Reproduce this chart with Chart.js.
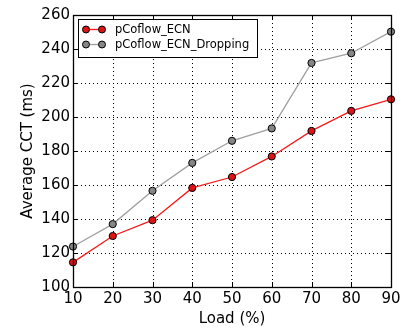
<!DOCTYPE html>
<html>
<head>
<meta charset="utf-8">
<script src="https://cdn.jsdelivr.net/npm/chart.js@4/dist/chart.umd.min.js"></script>
<style>
  html, body { margin: 0; padding: 0; background: #fff; }
  #wrap { width: 416px; height: 334px; }
</style>
</head>
<body>
<div id="wrap"><canvas id="chart" width="416" height="334"></canvas></div>
<script>
const loads = [10, 20, 30, 40, 50, 60, 70, 80, 90];
const ecn = [114.5, 130, 139.3, 158.3, 164.7, 176.8, 191.8, 203.6, 210.4];
const ecnDropping = [123.8, 137, 156.6, 173, 186, 193.3, 231.8, 237.5, 250.2];
const seriesNames = ['pCoflow_ECN', 'pCoflow_ECN_Dropping'];
const yTicks = [100, 120, 140, 160, 180, 200, 220, 240, 260];

const FONT = 'DejaVu Sans';

function toPoints(values) {
    return loads.map((x, i) => ({ x: x, y: values[i] }));
}

// dotted grid behind the lines
const gridPlugin = {
    id: 'dottedGrid',
    beforeDatasetsDraw(chart) {
        const ctx = chart.ctx;
        const a = chart.chartArea;
        const xs = chart.scales.x;
        const ys = chart.scales.y;
        ctx.save();
        ctx.strokeStyle = '#000';
        ctx.lineWidth = 1;
        ctx.setLineDash([1, 3]);
        ctx.beginPath();
        loads.forEach(v => {
            const px = Math.round(xs.getPixelForValue(v)) + 0.5;
            ctx.moveTo(px, a.top); ctx.lineTo(px, a.bottom);
        });
        yTicks.forEach(v => {
            const py = Math.round(ys.getPixelForValue(v)) + 0.5;
            ctx.moveTo(a.left, py); ctx.lineTo(a.right, py);
        });
        ctx.stroke();
        ctx.restore();
    }
};

// box around plot, inward ticks and the legend box
const framePlugin = {
    id: 'frame',
    afterDraw(chart) {
        const ctx = chart.ctx;
        const a = chart.chartArea;
        const xs = chart.scales.x;
        const ys = chart.scales.y;
        ctx.save();
        ctx.strokeStyle = '#000';
        ctx.lineWidth = 1.3;
        ctx.strokeRect(Math.round(a.left) + 0.5, Math.round(a.top) + 0.5,
            Math.round(a.right - a.left), Math.round(a.bottom - a.top));

        ctx.lineWidth = 1;
        ctx.beginPath();
        loads.forEach(v => {
            const px = Math.round(xs.getPixelForValue(v)) + 0.5;
            ctx.moveTo(px, a.bottom); ctx.lineTo(px, a.bottom - 5);
            ctx.moveTo(px, a.top); ctx.lineTo(px, a.top + 5);
        });
        yTicks.forEach(v => {
            const py = Math.round(ys.getPixelForValue(v)) + 0.5;
            ctx.moveTo(a.left, py); ctx.lineTo(a.left + 5, py);
            ctx.moveTo(a.right, py); ctx.lineTo(a.right - 5, py);
        });
        ctx.stroke();

        // legend
        const lx = 78, ly = 19, lw = 179, lh = 38;
        ctx.fillStyle = '#fff';
        ctx.fillRect(lx, ly, lw, lh);
        ctx.strokeRect(lx + 0.5, ly + 0.5, lw, lh);
        chart.data.datasets.forEach((ds, i) => {
            const cy = ly + 10.5 + i * 15;
            ctx.strokeStyle = ds.borderColor;
            ctx.lineWidth = 1.3;
            ctx.beginPath();
            ctx.moveTo(86, cy); ctx.lineTo(102, cy);
            ctx.stroke();
            [86, 102].forEach(mx => {
                ctx.beginPath();
                ctx.arc(mx, cy, 3.5, 0, Math.PI * 2);
                ctx.fillStyle = ds.pointBackgroundColor;
                ctx.fill();
                ctx.strokeStyle = '#000';
                ctx.lineWidth = 1;
                ctx.stroke();
            });
            ctx.fillStyle = '#000';
            ctx.font = '11.5px "' + FONT + '"';
            ctx.textBaseline = 'middle';
            ctx.textAlign = 'left';
            ctx.fillText(ds.label, 115, cy + 0.5);
        });
        ctx.restore();
    }
};

new Chart(document.getElementById('chart'), {
    type: 'line',
    data: {
        datasets: [
            {
                label: seriesNames[0],
                data: toPoints(ecn),
                borderColor: '#f41a1a',
                pointBackgroundColor: '#dc1418',
                pointBorderColor: '#000',
                pointBorderWidth: 1,
                pointRadius: 3.6,
                borderWidth: 1.3,
                tension: 0
            },
            {
                label: seriesNames[1],
                data: toPoints(ecnDropping),
                borderColor: '#a0a0a0',
                pointBackgroundColor: '#858585',
                pointBorderColor: '#000',
                pointBorderWidth: 1,
                pointRadius: 3.6,
                borderWidth: 1.3,
                tension: 0
            }
        ]
    },
    options: {
        responsive: false,
        animation: false,
        clip: false,
        layout: { padding: { left: 0, right: 25, top: 15, bottom: 0 } },
        plugins: {
            legend: { display: false },
            tooltip: { enabled: false }
        },
        scales: {
            x: {
                type: 'linear',
                min: 10,
                max: 90,
                afterFit(scale) { scale.height = 47; },
                afterBuildTicks(scale) { scale.ticks = loads.map(v => ({ value: v })); },
                grid: { display: false, drawTicks: false },
                border: { display: false },
                ticks: {
                    color: '#000',
                    padding: 3,
                    font: { family: FONT, size: 15 },
                    maxRotation: 0
                },
                title: {
                    display: true,
                    text: 'Load (%)',
                    color: '#000',
                    font: { family: FONT, size: 15 },
                    padding: { top: 0, bottom: 6 }
                }
            },
            y: {
                min: 100,
                max: 260,
                afterFit(scale) { scale.width = 73; },
                afterBuildTicks(scale) { scale.ticks = yTicks.map(v => ({ value: v })); },
                grid: { display: false, drawTicks: false },
                border: { display: false },
                ticks: {
                    color: '#000',
                    padding: 3,
                    font: { family: FONT, size: 15 }
                },
                title: {
                    display: true,
                    text: 'Average CCT (ms)',
                    color: '#000',
                    font: { family: FONT, size: 15 },
                    padding: { top: 19, bottom: 0 }
                }
            }
        }
    },
    plugins: [gridPlugin, framePlugin]
});
</script>
</body>
</html>
